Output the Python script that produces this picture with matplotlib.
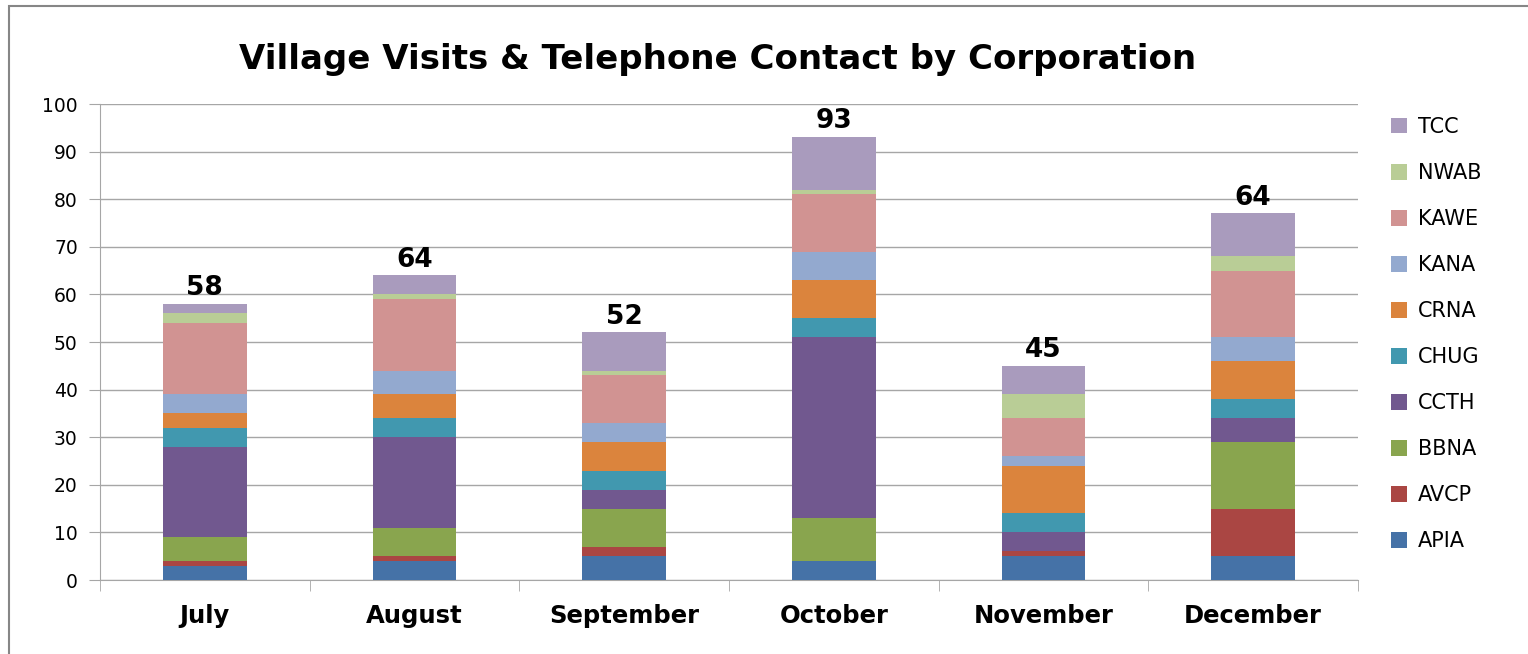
import matplotlib
matplotlib.use("Agg")
import matplotlib.pyplot as plt
import numpy as np

# data
months = ["July", "August", "September", "October", "November", "December"]
corps = ["APIA", "AVCP", "BBNA", "CCTH", "CHUG", "CRNA", "KANA", "KAWE", "NWAB", "TCC"]
apia = [3, 4, 5, 4, 5, 5]
avcp = [1, 1, 2, 0, 1, 10]
bbna = [5, 6, 8, 9, 0, 14]
ccth = [19, 19, 4, 38, 4, 5]
chug = [4, 4, 4, 4, 4, 4]
crna = [3, 5, 6, 8, 10, 8]
kana = [4, 5, 4, 6, 2, 5]
kawe = [15, 15, 10, 12, 8, 14]
nwab = [2, 1, 1, 1, 5, 3]
tcc = [2, 4, 8, 11, 6, 9]
total_labels = ["58", "64", "52", "93", "45", "64"]

series = [apia, avcp, bbna, ccth, chug, crna, kana, kawe, nwab, tcc]
colors = ["#4572A7", "#AA4643", "#89A54E", "#71588F", "#4198AF",
          "#DB843D", "#93A9CF", "#D19392", "#B9CD96", "#A99BBD"]

W, H = 1528, 654
fig = plt.figure(figsize=(W / 100, H / 100), dpi=100)
ax = fig.add_axes([100 / W, 1 - 580 / H, (1358 - 100) / W, (580 - 104) / H])

x = np.arange(len(months))
bottom = np.zeros(len(months))
for name, vals, c in zip(corps, series, colors):
    ax.bar(x, vals, 0.4, bottom=bottom, color=c, label=name, zorder=3)
    bottom += np.array(vals)

# totals above each bar
for i, lab in enumerate(total_labels):
    ax.text(x[i], bottom[i] + 0.6, lab, ha="center", va="bottom",
            fontsize=19, fontweight="bold", family="DejaVu Sans")

ax.set_xlim(-0.5, len(months) - 0.5)
ax.set_ylim(0, 100)
ax.set_yticks(range(0, 101, 10))
ax.yaxis.grid(True, color="#A6A6A6", linewidth=1, zorder=0)
ax.tick_params(axis="y", length=8, color="#A6A6A6", labelsize=13.5, pad=8)

ax.set_xticks(x)
ax.set_xticklabels(months, fontsize=17.5, fontweight="bold", family="DejaVu Sans")
ax.tick_params(axis="x", which="major", length=0, pad=17)
ax.set_xticks(np.arange(-0.5, len(months)), minor=True)
ax.tick_params(axis="x", which="minor", length=8, color="#A6A6A6")

for s in ["top", "right"]:
    ax.spines[s].set_visible(False)
for s in ["left", "bottom"]:
    ax.spines[s].set_color("#A6A6A6")

handles, labels = ax.get_legend_handles_labels()
fig.legend(handles[::-1], labels[::-1], loc="upper left",
           bbox_to_anchor=(1372 / W, 1 - 98 / H), frameon=False,
           fontsize=15, handlelength=0.8, handleheight=0.8,
           handletextpad=0.5, labelspacing=1.25)

fig.text(718 / W, 1 - 60 / H, "Village Visits & Telephone Contact by Corporation",
         ha="center", va="center", fontsize=24.5, fontweight="bold", family="DejaVu Sans")

# outer chart border
fig.patches.append(plt.Rectangle((9 / W, -0.1), 1.2, 1 - 6 / H + 0.1,
                                 transform=fig.transFigure, fill=False,
                                 edgecolor="#868686", linewidth=1.5))

fig.savefig("out.png", dpi=100)
